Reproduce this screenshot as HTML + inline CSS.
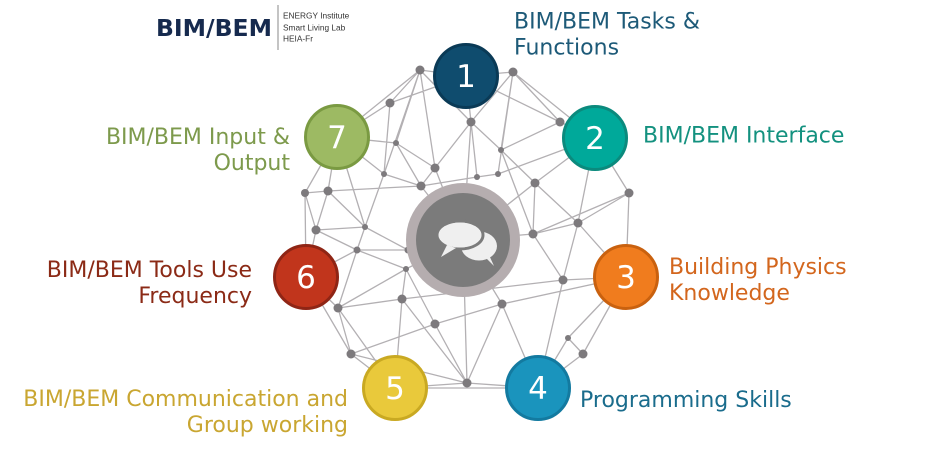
<!DOCTYPE html>
<html><head><meta charset="utf-8"><style>
html,body{margin:0;padding:0;background:#fff;}
svg{display:block;}
.lbl{font-family:"DejaVu Sans","Liberation Sans",sans-serif;font-size:22px;}
.num{font-family:"DejaVu Sans","Liberation Sans",sans-serif;font-size:31px;fill:#fff;text-anchor:middle;}
</style></head><body>
<svg width="932" height="450" viewBox="0 0 932 450" xmlns="http://www.w3.org/2000/svg">
<rect width="932" height="450" fill="#fff"/>
<!-- logo -->
<text x="156" y="36" font-family="DejaVu Sans, Liberation Sans, sans-serif" font-weight="bold" font-size="23.5" fill="#162a4e" textLength="116" lengthAdjust="spacingAndGlyphs">BIM/BEM</text>
<line x1="278" y1="5" x2="278" y2="50" stroke="#8a8a8a" stroke-width="1"/>
<g font-family="Liberation Sans, Arial, sans-serif" font-size="8.3" fill="#333">
<text x="283" y="18.5">ENERGY Institute</text>
<text x="283" y="30.5">Smart Living Lab</text>
<text x="283" y="41.5">HEIA-Fr</text>
</g>
<!-- network lines -->
<g stroke="#b3b0b3" stroke-width="1.3" fill="none">
<path d="M420,70L466,76 M420,70L390,103 M420,70L337,137 M420,70L396,143 M420,70L435,168 M420,70L471,122 M420,70L384,174
M513,72L466,76 M513,72L471,122 M513,72L501,150 M513,72L560,122 M513,72L595,138 M513,72L498,174
M390,103L337,137 M390,103L384,174 M390,103L466,76
M471,122L435,168 M471,122L501,150 M471,122L477,177 M471,122L466,76 M471,122L463,240
M560,122L595,138 M560,122L501,150 M560,122L466,76
M396,143L337,137 M396,143L435,168 M396,143L421,186
M435,168L421,186 M435,168L463,240
M384,174L337,137 M384,174L421,186 M384,174L365,227
M421,186L328,191 M421,186L477,177 M477,177L498,174 M498,174L595,138 M421,186L463,240
M501,150L535,183 M501,150L533,234
M535,183L595,138 M535,183L578,223 M535,183L533,234 M535,183L463,240
M629,193L595,138 M629,193L578,223 M629,193L626,277 M629,193L533,234
M578,223L595,138 M578,223L626,277 M578,223L563,280 M578,223L533,234
M305,193L337,137 M305,193L328,191 M305,193L316,230 M305,193L306,277
M328,191L337,137 M328,191L316,230 M328,191L365,227
M316,230L306,277 M316,230L357,250 M316,230L365,227
M365,227L357,250 M365,227L408,250 M365,227L337,137
M357,250L306,277 M357,250L408,250 M357,250L338,308 M357,250L406,269
M406,269L402,299 M406,269L463,240 M406,269L435,324 M406,269L338,308
M338,308L306,277 M338,308L402,299 M338,308L351,354 M338,308L395,388
M402,299L563,280 M402,299L395,388 M402,299L467,383
M435,324L467,383 M435,324L351,354 M435,324L502,304
M502,304L538,388 M502,304L463,240 M502,304L626,277 M502,304L467,383
M563,280L626,277 M563,280L533,234 M563,280L538,388
M568,338L626,277 M568,338L538,388 M568,338L583,354
M583,354L626,277 M583,354L538,388
M351,354L306,277 M351,354L395,388 M351,354L467,383
M467,383L395,388 M467,383L538,388 M467,383L463,240
M395,388L538,388 M533,234L463,240"/>
</g>
<!-- nodes -->
<g fill="#7d7a7d">
<circle cx="420" cy="70" r="4.5"/><circle cx="513" cy="72" r="4.5"/><circle cx="390" cy="103" r="4.5"/>
<circle cx="471" cy="122" r="4.5"/><circle cx="560" cy="122" r="4.5"/><circle cx="396" cy="143" r="3"/>
<circle cx="501" cy="150" r="3"/><circle cx="435" cy="168" r="4.5"/><circle cx="384" cy="174" r="3"/>
<circle cx="498" cy="174" r="3"/><circle cx="477" cy="177" r="3"/><circle cx="535" cy="183" r="4.5"/>
<circle cx="421" cy="186" r="4.5"/><circle cx="305" cy="193" r="4"/><circle cx="328" cy="191" r="4.5"/>
<circle cx="629" cy="193" r="4.5"/><circle cx="578" cy="223" r="4.5"/><circle cx="316" cy="230" r="4.5"/>
<circle cx="365" cy="227" r="3"/><circle cx="533" cy="234" r="4.5"/><circle cx="357" cy="250" r="3.5"/>
<circle cx="408" cy="250" r="3.5"/><circle cx="406" cy="269" r="3"/><circle cx="563" cy="280" r="4.5"/>
<circle cx="402" cy="299" r="4.5"/><circle cx="502" cy="304" r="4.5"/><circle cx="338" cy="308" r="4.5"/>
<circle cx="435" cy="324" r="4.5"/><circle cx="568" cy="338" r="3"/><circle cx="351" cy="354" r="4.5"/>
<circle cx="583" cy="354" r="4.5"/><circle cx="467" cy="383" r="4.5"/>
</g>
<!-- center -->
<circle cx="463" cy="240" r="57" fill="#b5adaf"/>
<circle cx="463" cy="240" r="47" fill="#7b7b7b"/>
<ellipse cx="479" cy="246" rx="18" ry="14.5" fill="#efefef"/>
<path d="M484,256 L494,266 L489,255 Z" fill="#efefef"/>
<ellipse cx="460" cy="235" rx="23" ry="14" fill="#efefef" stroke="#7b7b7b" stroke-width="3"/>
<path d="M447,245 L441,257 L456,248 Z" fill="#efefef"/>
<ellipse cx="460" cy="235" rx="21.5" ry="12.5" fill="#efefef"/>
<!-- numbered circles -->
<circle cx="466" cy="76" r="31.5" fill="#0f4c6e" stroke="#0a3a56" stroke-width="3"/>
<circle cx="595" cy="138" r="31.5" fill="#00a99a" stroke="#0b8a7d" stroke-width="3"/>
<circle cx="626" cy="277" r="31.5" fill="#f07c1e" stroke="#c9610f" stroke-width="3"/>
<circle cx="538" cy="388" r="31.5" fill="#1a94bd" stroke="#137aa0" stroke-width="3"/>
<circle cx="395" cy="388" r="31.5" fill="#e9c93b" stroke="#c9a922" stroke-width="3"/>
<circle cx="306" cy="277" r="31.5" fill="#c1351c" stroke="#8f2515" stroke-width="3"/>
<circle cx="337" cy="137" r="31.5" fill="#9dba63" stroke="#7a9a42" stroke-width="3"/>
<text class="num" x="466" y="87">1</text>
<text class="num" x="595" y="149">2</text>
<text class="num" x="626" y="288">3</text>
<text class="num" x="538" y="399">4</text>
<text class="num" x="395" y="399">5</text>
<text class="num" x="306" y="288">6</text>
<text class="num" x="337" y="148">7</text>
<!-- labels -->
<g class="lbl">
<text x="514" y="28.5" fill="#1d5a78">BIM/BEM Tasks &amp;</text>
<text x="514" y="54.5" fill="#1d5a78">Functions</text>
<text x="643" y="142.5" fill="#13917f">BIM/BEM Interface</text>
<text x="669" y="274" fill="#d3661d">Building Physics</text>
<text x="669" y="300" fill="#d3661d">Knowledge</text>
<text x="580" y="407" fill="#1a6c8c">Programming Skills</text>
<text x="348" y="406" fill="#c9a631" text-anchor="end">BIM/BEM Communication and</text>
<text x="348" y="432" fill="#c9a631" text-anchor="end">Group working</text>
<text x="252" y="277" fill="#8b2a16" text-anchor="end">BIM/BEM Tools Use</text>
<text x="252" y="303" fill="#8b2a16" text-anchor="end">Frequency</text>
<text x="290" y="144" fill="#7d9a4c" text-anchor="end">BIM/BEM Input &amp;</text>
<text x="290" y="170" fill="#7d9a4c" text-anchor="end">Output</text>
</g>
</svg>
</body></html>
